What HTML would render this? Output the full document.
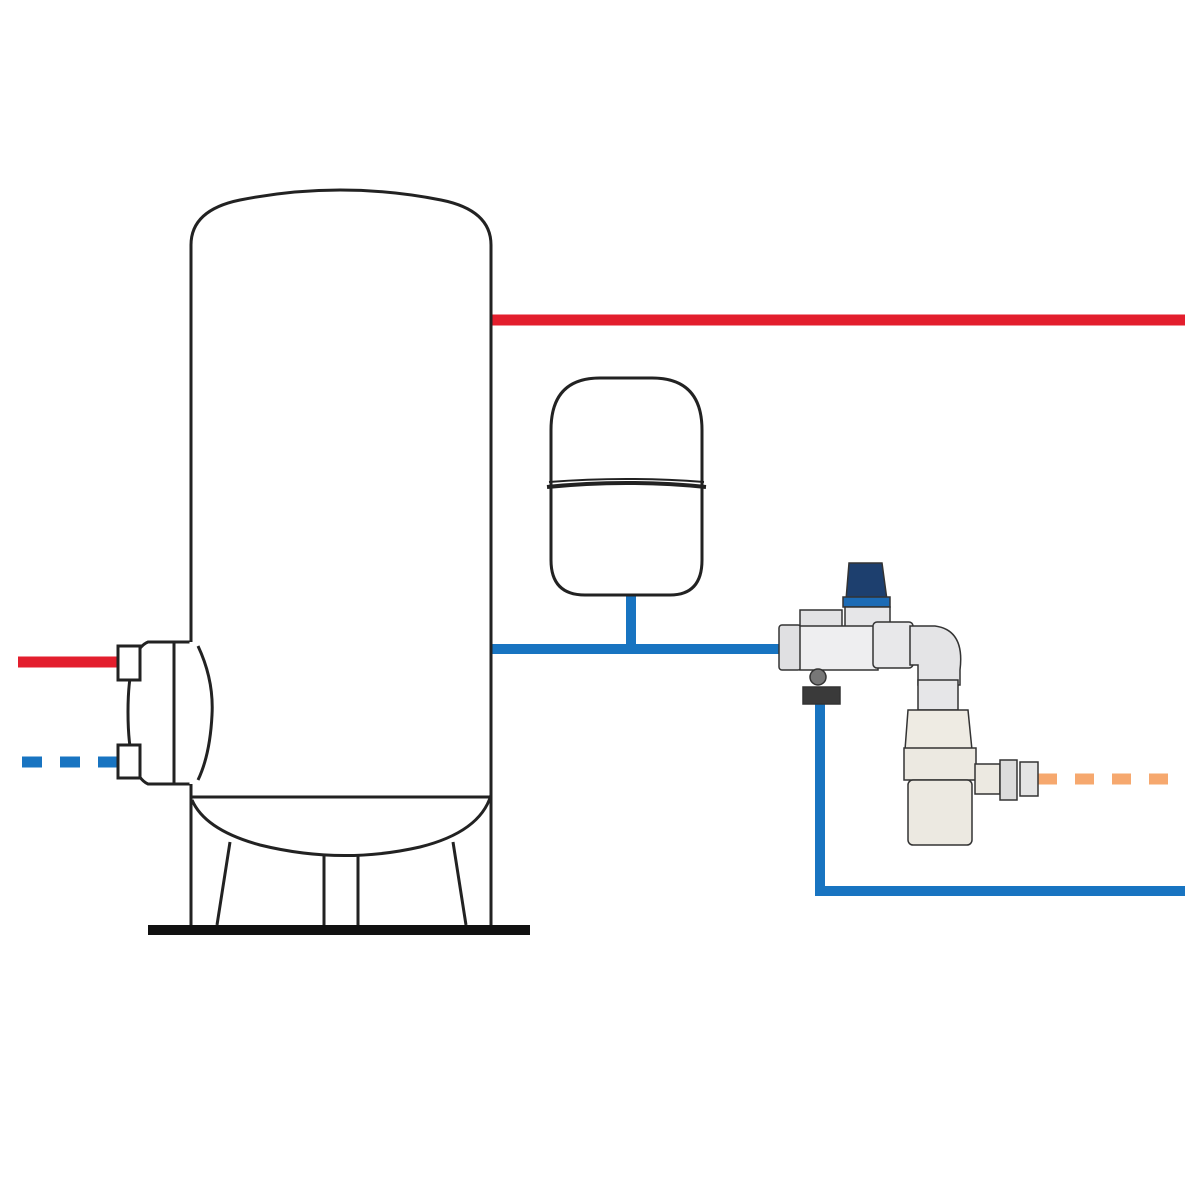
<!DOCTYPE html>
<html><head><style>html,body{margin:0;padding:0;background:#fff}svg{display:block}</style></head>
<body>
<svg width="1200" height="1200" viewBox="0 0 1200 1200" xmlns="http://www.w3.org/2000/svg">
<rect width="1200" height="1200" fill="#fff"/>
<line x1="491" y1="320" x2="1185" y2="320" stroke="#e31e2d" stroke-width="11"/>
<line x1="18" y1="662" x2="120" y2="662" stroke="#e31e2d" stroke-width="11"/>
<line x1="22" y1="762" x2="120" y2="762" stroke="#1874c1" stroke-width="11" stroke-dasharray="20 18"/>
<line x1="491" y1="649" x2="785" y2="649" stroke="#1874c1" stroke-width="10"/>
<line x1="631" y1="595" x2="631" y2="649" stroke="#1874c1" stroke-width="10"/>
<polyline points="820,700 820,891 1185,891" fill="none" stroke="#1874c1" stroke-width="10"/>
<line x1="1038" y1="779" x2="1175" y2="779" stroke="#f6a86e" stroke-width="11" stroke-dasharray="19 18"/>
<g fill="none" stroke="#222" stroke-width="3">
<path d="M191,925 L191,784 L148,784 Q128,775 128,712 Q128,650 148,642 L191,642 L191,245 Q191,210 240,200 Q340,180 441,200 Q491,210 491,245 L491,925" fill="#fff"/>
<line x1="174" y1="642" x2="174" y2="784"/>
<line x1="191" y1="642" x2="191" y2="784" stroke="#fff" stroke-width="3"/>
<line x1="191" y1="797" x2="491" y2="797"/>
<path d="M192,800 Q205,830 260,845 Q341,865 420,847 Q480,832 491,795"/>
<line x1="230" y1="842" x2="217" y2="925"/>
<line x1="453" y1="842" x2="466" y2="925"/>
<line x1="324" y1="856" x2="324" y2="925"/>
<line x1="358" y1="856" x2="358" y2="925"/>
<path d="M198,646 Q214,680 212,715 Q210,755 198,780"/>
<rect x="118" y="646" width="22" height="34" fill="#fff"/>
<rect x="118" y="745" width="22" height="33" fill="#fff"/>
<path d="M551,430 Q551,378 600,378 L652,378 Q702,378 702,430 L702,560 Q702,595 670,595 L585,595 Q551,595 551,560 Z" fill="#fff"/>
<path d="M547,487 Q626,479 706,487" stroke-width="4"/>
<path d="M549,482 Q626,476 704,482" stroke-width="2"/>
</g>
<rect x="148" y="925" width="382" height="10" fill="#111"/>
<g stroke="#333" stroke-width="1.5">
<path d="M849,563 L882,563 L887,600 L846,600 Z" fill="#1d3f6e"/>
<rect x="843" y="597" width="47" height="10" fill="#1c6bb5"/>
<rect x="845" y="607" width="45" height="20" fill="#e6e6e8"/>
<rect x="800" y="610" width="42" height="18" fill="#e2e2e4"/>
<rect x="779" y="625" width="22" height="45" rx="3" fill="#e0e0e2"/>
<rect x="800" y="626" width="78" height="44" fill="#eeeef0"/>
<rect x="873" y="622" width="40" height="46" rx="4" fill="#e8e8ea"/>
<path d="M910,626 L935,626 Q965,630 960,670 L960,685 L918,685 L918,665 L910,665 Z" fill="#e4e4e6"/>
<rect x="918" y="680" width="40" height="30" fill="#e6e6e8"/>
<rect x="803" y="687" width="37" height="17" fill="#3a3a3a"/>
<circle cx="818" cy="677" r="8" fill="#777"/>
<path d="M908,710 L968,710 L972,750 L905,750 Z" fill="#eeebe3"/>
<rect x="904" y="748" width="72" height="32" fill="#ece9e1"/>
<rect x="908" y="780" width="64" height="65" rx="5" fill="#ece9e1"/>
<rect x="975" y="764" width="25" height="30" fill="#ece9e1"/>
<rect x="1000" y="760" width="17" height="40" fill="#dcdcdc"/>
<rect x="1020" y="762" width="18" height="34" fill="#e4e4e4"/>
</g>
</svg>
</body></html>
